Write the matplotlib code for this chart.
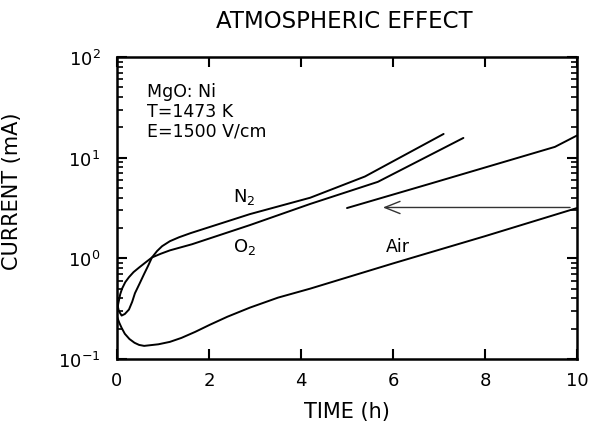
import matplotlib
matplotlib.use("Agg")
import matplotlib.pyplot as plt
from matplotlib.ticker import NullFormatter, FixedLocator, LogFormatterSciNotation

# Current vs. time in N2 atmosphere (h, mA)
n2_time = [0.0, 0.04, 0.10, 0.17, 0.26, 0.33, 0.39, 0.49, 0.59, 0.68, 0.76,
           0.87, 0.98, 1.15, 1.35, 1.6, 2.89, 4.2, 5.39, 7.1]
n2_current = [0.36, 0.30, 0.27, 0.28, 0.31, 0.37, 0.45, 0.56, 0.70, 0.85, 1.02,
              1.18, 1.32, 1.48, 1.62, 1.78, 2.75, 4.0, 6.5, 17.2]

# Current vs. time in O2 atmosphere
o2_time = [0.0, 0.03, 0.07, 0.11, 0.18, 0.26, 0.36, 0.48, 0.62, 0.76, 0.95,
           1.15, 1.63, 2.89, 4.2, 5.67, 7.53]
o2_current = [0.30, 0.36, 0.44, 0.50, 0.58, 0.65, 0.73, 0.81, 0.91, 1.02, 1.11,
              1.2, 1.38, 2.14, 3.47, 5.75, 15.7]

# Current vs. time in air
air_time = [0.0, 0.05, 0.10, 0.17, 0.27, 0.38, 0.48, 0.59, 0.9, 1.15, 1.4,
            1.7, 2.02, 2.4, 2.89, 3.5, 4.2, 6.0, 8.0, 10.0]
air_current = [0.263, 0.229, 0.204, 0.178, 0.158, 0.145, 0.138, 0.135, 0.140,
               0.148, 0.162, 0.186, 0.219, 0.263, 0.324, 0.407, 0.50, 0.89,
               1.66, 3.16]

# Continuation of the air run, shifted back along the time axis
air_cont_time = [5.0, 6.8, 9.52, 10.0]
air_cont_current = [3.16, 5.5, 12.8, 16.6]

# Shift arrow: level and horizontal extent
arrow_level = 3.2
arrow_from = 9.85
arrow_to = 5.78

x_ticks = [0, 2, 4, 6, 8, 10]
y_decades = [0.1, 1, 10, 100]
title_text = "ATMOSPHERIC EFFECT"
x_label = "TIME (h)"
y_label = "CURRENT (mA)"
conditions = ["MgO: Ni", "T=1473 K", "E=1500 V/cm"]

plt.rcdefaults()
plt.rcParams["font.family"] = ["DejaVu Sans"]

fig = plt.figure(figsize=(5.91, 4.27), dpi=100)
ax = fig.add_axes([117 / 591, 67 / 427, 460 / 591, 302 / 427])

line_kw = dict(color="black", lw=1.4, solid_joinstyle="round", solid_capstyle="round")
ax.plot(n2_time, n2_current, **line_kw)
ax.plot(o2_time, o2_current, **line_kw)
ax.plot(air_time, air_current, **line_kw)
ax.plot(air_cont_time, air_cont_current, **line_kw)

ax.annotate("", xy=(arrow_to, arrow_level), xytext=(arrow_from, arrow_level),
            arrowprops=dict(arrowstyle="->,head_length=0.55,head_width=0.22",
                            lw=1.0, color="0.2", mutation_scale=20,
                            shrinkA=0, shrinkB=0))

ax.set_yscale("log")
ax.set_xlim(0, 10)
ax.set_ylim(0.1, 100)

# minor ticks at 2..9 within each decade
minor_y = [d * k for d in y_decades[:-1] for k in range(2, 10)]
ax.xaxis.set_major_locator(FixedLocator(x_ticks))
ax.yaxis.set_major_locator(FixedLocator(y_decades))
ax.yaxis.set_major_formatter(LogFormatterSciNotation())
ax.yaxis.set_minor_locator(FixedLocator(minor_y))
ax.yaxis.set_minor_formatter(NullFormatter())

ax.tick_params(which="both", direction="in", top=True, right=True,
               bottom=True, left=True, color="black", labelsize=13)
ax.tick_params(which="major", length=7, width=1.5)
ax.tick_params(which="minor", length=4, width=1.2)
ax.tick_params(axis="y", pad=12)
ax.tick_params(axis="x", pad=9)
for sp in ax.spines.values():
    sp.set_linewidth(1.8)
    sp.set_color("black")

# Curve labels
ax.text(2.52, 3.7, "N$_2$", fontsize=13, ha="left", va="baseline")
ax.text(2.52, 1.19, "O$_2$", fontsize=13, ha="left", va="baseline")
ax.text(5.85, 1.19, "Air", fontsize=12.5, ha="left", va="baseline")

# Experimental conditions
for i, s in enumerate(conditions):
    ax.text(0.065, 0.871 - i * 0.066, s, transform=ax.transAxes,
            fontsize=12.5, ha="left", va="baseline")

fig.text(344 / 591, 1 - 28 / 427, title_text, fontsize=16.5, ha="center", va="baseline")
ax.set_xlabel(x_label, fontsize=15, labelpad=8)
ax.set_ylabel(y_label, fontsize=15)
ax.yaxis.set_label_coords(-0.207, 0.56)

fig.savefig("out.png", dpi=100)
